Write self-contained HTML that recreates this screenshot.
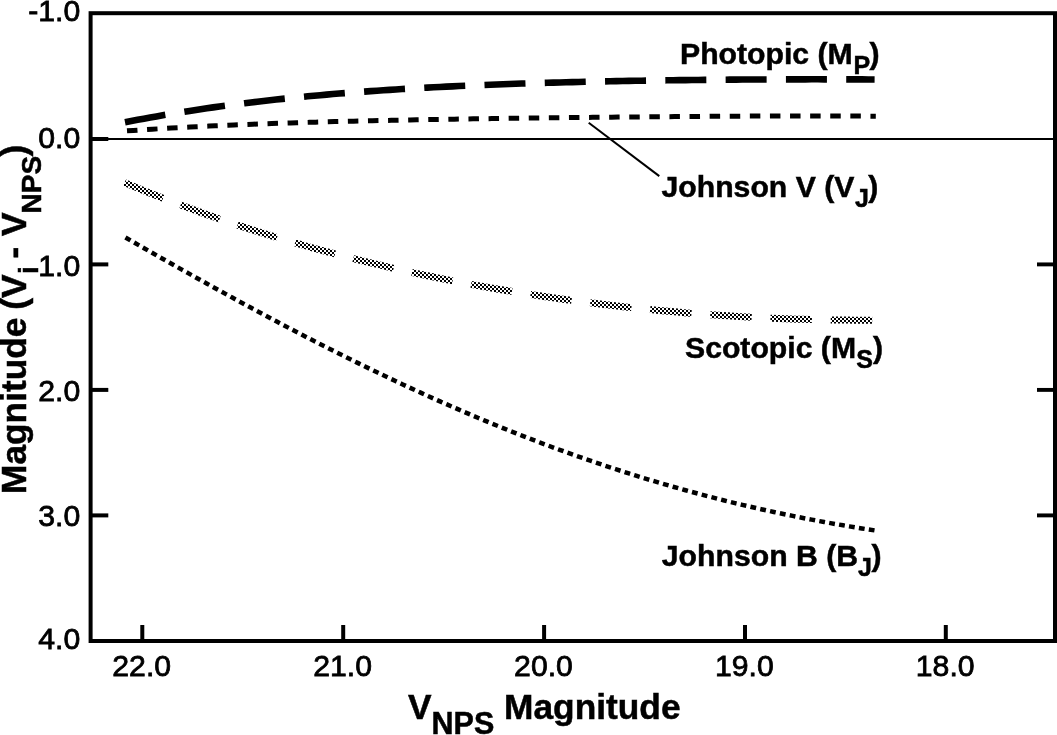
<!DOCTYPE html>
<html><head><meta charset="utf-8"><title>V_NPS Magnitude chart</title>
<style>html,body{margin:0;padding:0;background:#fff;}svg{display:block;}</style></head>
<body><svg width="1057" height="735" viewBox="0 0 1057 735">
<rect width="1057" height="735" fill="#fff"/>
<defs><pattern id="chk" patternUnits="userSpaceOnUse" width="4" height="4"><rect width="4" height="4" fill="#fff"/><rect width="2" height="2" fill="#000"/><rect x="2" y="2" width="2" height="2" fill="#000"/></pattern></defs>
<rect x="90.6" y="13.2" width="964.4" height="627.8" fill="none" stroke="#000" stroke-width="4"/>
<line x1="142.3" y1="641.0" x2="142.3" y2="625" stroke="#000" stroke-width="4"/>
<line x1="343.2" y1="641.0" x2="343.2" y2="625" stroke="#000" stroke-width="4"/>
<line x1="544.1" y1="641.0" x2="544.1" y2="625" stroke="#000" stroke-width="4"/>
<line x1="745.0" y1="641.0" x2="745.0" y2="625" stroke="#000" stroke-width="4"/>
<line x1="945.8" y1="641.0" x2="945.8" y2="625" stroke="#000" stroke-width="4"/>
<line x1="90.6" y1="139.0" x2="108.3" y2="139.0" stroke="#000" stroke-width="4"/>
<line x1="90.6" y1="264.4" x2="108.3" y2="264.4" stroke="#000" stroke-width="4"/>
<line x1="90.6" y1="389.9" x2="108.3" y2="389.9" stroke="#000" stroke-width="4"/>
<line x1="90.6" y1="515.4" x2="108.3" y2="515.4" stroke="#000" stroke-width="4"/>
<line x1="1037" y1="264.4" x2="1055" y2="264.4" stroke="#000" stroke-width="3.9"/>
<line x1="1037" y1="389.9" x2="1055" y2="389.9" stroke="#000" stroke-width="3.9"/>
<line x1="1037" y1="515.4" x2="1055" y2="515.4" stroke="#000" stroke-width="3.9"/>
<line x1="90.6" y1="138.9" x2="1055" y2="138.9" stroke="#000" stroke-width="2"/>
<text x="141.7" y="675.7" font-family="Liberation Sans, Arial, Helvetica, sans-serif" stroke="#000" stroke-width="0.8" font-size="30.2" text-anchor="middle">22.0</text>
<text x="342.6" y="675.7" font-family="Liberation Sans, Arial, Helvetica, sans-serif" stroke="#000" stroke-width="0.8" font-size="30.2" text-anchor="middle">21.0</text>
<text x="543.5" y="675.7" font-family="Liberation Sans, Arial, Helvetica, sans-serif" stroke="#000" stroke-width="0.8" font-size="30.2" text-anchor="middle">20.0</text>
<text x="744.4" y="675.7" font-family="Liberation Sans, Arial, Helvetica, sans-serif" stroke="#000" stroke-width="0.8" font-size="30.2" text-anchor="middle">19.0</text>
<text x="945.2" y="675.7" font-family="Liberation Sans, Arial, Helvetica, sans-serif" stroke="#000" stroke-width="0.8" font-size="30.2" text-anchor="middle">18.0</text>
<text x="80.3" y="21.2" font-family="Liberation Sans, Arial, Helvetica, sans-serif" stroke="#000" stroke-width="0.8" font-size="30.2" text-anchor="end">-1.0</text>
<text x="80.3" y="148.2" font-family="Liberation Sans, Arial, Helvetica, sans-serif" stroke="#000" stroke-width="0.8" font-size="30.2" text-anchor="end">0.0</text>
<text x="80.3" y="275.9" font-family="Liberation Sans, Arial, Helvetica, sans-serif" stroke="#000" stroke-width="0.8" font-size="30.2" text-anchor="end">1.0</text>
<text x="80.3" y="401.4" font-family="Liberation Sans, Arial, Helvetica, sans-serif" stroke="#000" stroke-width="0.8" font-size="30.2" text-anchor="end">2.0</text>
<text x="80.3" y="525.7" font-family="Liberation Sans, Arial, Helvetica, sans-serif" stroke="#000" stroke-width="0.8" font-size="30.2" text-anchor="end">3.0</text>
<text x="80.3" y="649.1" font-family="Liberation Sans, Arial, Helvetica, sans-serif" stroke="#000" stroke-width="0.8" font-size="30.2" text-anchor="end">4.0</text>
<path d="M124.60,182.63 L130.88,185.27 L137.17,187.88 L143.45,190.45 L149.74,192.99 L156.02,195.49 L162.31,197.97 L168.59,200.40 L174.88,202.81 L181.16,205.18 L187.45,207.52 L193.73,209.83 L200.02,212.10 L206.30,214.35 L212.59,216.56 L218.87,218.74 L225.16,220.89 L231.44,223.02 L237.73,225.11 L244.01,227.17 L250.30,229.21 L256.58,231.21 L262.87,233.19 L269.15,235.14 L275.44,237.06 L281.72,238.95 L288.01,240.82 L294.29,242.66 L300.58,244.47 L306.86,246.25 L313.15,248.01 L319.43,249.75 L325.72,251.46 L332.00,253.14 L338.29,254.80 L344.57,256.43 L350.86,258.04 L357.14,259.62 L363.43,261.18 L369.71,262.71 L375.99,264.22 L382.28,265.71 L388.56,267.18 L394.85,268.62 L401.13,270.03 L407.42,271.43 L413.70,272.80 L419.99,274.15 L426.27,275.48 L432.56,276.79 L438.84,278.07 L445.13,279.33 L451.41,280.58 L457.70,281.80 L463.98,283.00 L470.27,284.17 L476.55,285.33 L482.84,286.47 L489.12,287.58 L495.41,288.68 L501.69,289.76 L507.98,290.81 L514.26,291.85 L520.55,292.86 L526.83,293.86 L533.12,294.84 L539.40,295.79 L545.69,296.73 L551.97,297.65 L558.26,298.55 L564.54,299.43 L570.83,300.29 L577.11,301.13 L583.40,301.96 L589.68,302.76 L595.97,303.55 L602.25,304.32 L608.54,305.07 L614.82,305.80 L621.11,306.51 L627.39,307.21 L633.67,307.88 L639.96,308.54 L646.24,309.18 L652.53,309.80 L658.81,310.41 L665.10,310.99 L671.38,311.56 L677.67,312.11 L683.95,312.64 L690.24,313.15 L696.52,313.65 L702.81,314.13 L709.09,314.59 L715.38,315.03 L721.66,315.45 L727.95,315.86 L734.23,316.25 L740.52,316.62 L746.80,316.97 L753.09,317.30 L759.37,317.62 L765.66,317.92 L771.94,318.20 L778.23,318.46 L784.51,318.70 L790.80,318.92 L797.08,319.13 L803.37,319.32 L809.65,319.49 L815.94,319.64 L822.22,319.77 L828.51,319.88 L834.79,319.98 L841.08,320.05 L847.36,320.11 L853.65,320.15 L859.93,320.17 L866.22,320.17 L872.50,320.15" fill="none" stroke="url(#chk)" stroke-width="7" stroke-dasharray="41.5 18.8"/>
<path d="M125.20,237.38 L131.50,241.00 L137.79,244.60 L144.09,248.20 L150.39,251.79 L156.68,255.38 L162.98,258.95 L169.28,262.52 L175.57,266.07 L181.87,269.62 L188.17,273.16 L194.46,276.68 L200.76,280.20 L207.06,283.70 L213.35,287.19 L219.65,290.66 L225.95,294.13 L232.24,297.58 L238.54,301.02 L244.84,304.44 L251.13,307.84 L257.43,311.24 L263.73,314.61 L270.02,317.97 L276.32,321.32 L282.62,324.64 L288.91,327.95 L295.21,331.25 L301.51,334.52 L307.80,337.78 L314.10,341.02 L320.40,344.23 L326.69,347.43 L332.99,350.61 L339.29,353.77 L345.58,356.91 L351.88,360.03 L358.18,363.13 L364.47,366.21 L370.77,369.27 L377.07,372.30 L383.36,375.31 L389.66,378.30 L395.96,381.27 L402.25,384.22 L408.55,387.14 L414.85,390.04 L421.14,392.92 L427.44,395.77 L433.74,398.59 L440.03,401.40 L446.33,404.18 L452.63,406.93 L458.92,409.66 L465.22,412.37 L471.52,415.05 L477.81,417.70 L484.11,420.33 L490.41,422.94 L496.70,425.51 L503.00,428.06 L509.29,430.59 L515.59,433.09 L521.89,435.56 L528.18,438.01 L534.48,440.43 L540.78,442.82 L547.07,445.18 L553.37,447.52 L559.67,449.83 L565.96,452.12 L572.26,454.38 L578.56,456.60 L584.85,458.81 L591.15,460.98 L597.45,463.13 L603.74,465.25 L610.04,467.34 L616.34,469.40 L622.63,471.44 L628.93,473.44 L635.23,475.42 L641.52,477.38 L647.82,479.30 L654.12,481.20 L660.41,483.07 L666.71,484.91 L673.01,486.72 L679.30,488.50 L685.60,490.26 L691.90,491.99 L698.19,493.69 L704.49,495.36 L710.79,497.01 L717.08,498.63 L723.38,500.22 L729.68,501.78 L735.97,503.32 L742.27,504.82 L748.57,506.31 L754.86,507.76 L761.16,509.19 L767.46,510.59 L773.75,511.96 L780.05,513.31 L786.35,514.63 L792.64,515.92 L798.94,517.19 L805.24,518.43 L811.53,519.64 L817.83,520.83 L824.13,521.99 L830.42,523.13 L836.72,524.24 L843.02,525.33 L849.31,526.39 L855.61,527.43 L861.91,528.44 L868.20,529.43 L874.50,530.39" fill="none" stroke="#000" stroke-width="4.5" stroke-dasharray="5.8 4.247" stroke-dashoffset="-0.28"/>
<path d="M127.00,130.85 L133.29,130.42 L139.58,130.00 L145.88,129.60 L152.17,129.20 L158.46,128.82 L164.75,128.45 L171.05,128.08 L177.34,127.73 L183.63,127.39 L189.92,127.06 L196.22,126.74 L202.51,126.43 L208.80,126.12 L215.09,125.83 L221.39,125.54 L227.68,125.27 L233.97,125.00 L240.26,124.74 L246.56,124.48 L252.85,124.24 L259.14,124.00 L265.43,123.77 L271.73,123.54 L278.02,123.32 L284.31,123.11 L290.60,122.91 L296.90,122.71 L303.19,122.51 L309.48,122.32 L315.77,122.14 L322.07,121.96 L328.36,121.79 L334.65,121.62 L340.94,121.46 L347.24,121.30 L353.53,121.15 L359.82,121.00 L366.11,120.85 L372.41,120.71 L378.70,120.57 L384.99,120.44 L391.28,120.31 L397.57,120.18 L403.87,120.05 L410.16,119.93 L416.45,119.82 L422.74,119.70 L429.04,119.59 L435.33,119.48 L441.62,119.37 L447.91,119.27 L454.21,119.16 L460.50,119.06 L466.79,118.96 L473.08,118.87 L479.38,118.77 L485.67,118.68 L491.96,118.59 L498.25,118.50 L504.55,118.42 L510.84,118.33 L517.13,118.25 L523.42,118.17 L529.72,118.09 L536.01,118.01 L542.30,117.93 L548.59,117.85 L554.89,117.78 L561.18,117.71 L567.47,117.63 L573.76,117.56 L580.06,117.49 L586.35,117.42 L592.64,117.36 L598.93,117.29 L605.23,117.23 L611.52,117.16 L617.81,117.10 L624.10,117.04 L630.39,116.98 L636.69,116.92 L642.98,116.86 L649.27,116.81 L655.56,116.75 L661.86,116.70 L668.15,116.64 L674.44,116.59 L680.73,116.54 L687.03,116.50 L693.32,116.45 L699.61,116.41 L705.90,116.36 L712.20,116.32 L718.49,116.28 L724.78,116.25 L731.07,116.21 L737.37,116.18 L743.66,116.15 L749.95,116.12 L756.24,116.09 L762.54,116.07 L768.83,116.04 L775.12,116.02 L781.41,116.01 L787.71,115.99 L794.00,115.98 L800.29,115.98 L806.58,115.97 L812.88,115.97 L819.17,115.97 L825.46,115.98 L831.75,115.99 L838.05,116.00 L844.34,116.02 L850.63,116.04 L856.92,116.07 L863.22,116.10 L869.51,116.14 L875.80,116.18" fill="none" stroke="#000" stroke-width="5" stroke-dasharray="10.5 9.6"/>
<path d="M125.00,122.30 L131.30,121.06 L137.60,119.85 L143.90,118.66 L150.20,117.51 L156.50,116.38 L162.79,115.28 L169.09,114.21 L175.39,113.16 L181.69,112.14 L187.99,111.14 L194.29,110.16 L200.59,109.22 L206.89,108.29 L213.19,107.39 L219.49,106.51 L225.79,105.65 L232.09,104.81 L238.38,104.00 L244.68,103.21 L250.98,102.44 L257.28,101.68 L263.58,100.95 L269.88,100.24 L276.18,99.54 L282.48,98.87 L288.78,98.21 L295.08,97.57 L301.38,96.95 L307.68,96.34 L313.97,95.75 L320.27,95.18 L326.57,94.62 L332.87,94.08 L339.17,93.56 L345.47,93.05 L351.77,92.55 L358.07,92.07 L364.37,91.60 L370.67,91.15 L376.97,90.70 L383.27,90.28 L389.56,89.86 L395.86,89.46 L402.16,89.07 L408.46,88.69 L414.76,88.32 L421.06,87.96 L427.36,87.62 L433.66,87.28 L439.96,86.96 L446.26,86.64 L452.56,86.34 L458.86,86.04 L465.15,85.75 L471.45,85.48 L477.75,85.21 L484.05,84.95 L490.35,84.70 L496.65,84.45 L502.95,84.22 L509.25,83.99 L515.55,83.77 L521.85,83.56 L528.15,83.35 L534.45,83.16 L540.74,82.96 L547.04,82.78 L553.34,82.60 L559.64,82.43 L565.94,82.26 L572.24,82.10 L578.54,81.95 L584.84,81.80 L591.14,81.65 L597.44,81.52 L603.74,81.38 L610.04,81.26 L616.33,81.13 L622.63,81.01 L628.93,80.90 L635.23,80.79 L641.53,80.69 L647.83,80.59 L654.13,80.49 L660.43,80.40 L666.73,80.31 L673.03,80.23 L679.33,80.15 L685.63,80.08 L691.92,80.00 L698.22,79.94 L704.52,79.87 L710.82,79.81 L717.12,79.75 L723.42,79.70 L729.72,79.65 L736.02,79.60 L742.32,79.56 L748.62,79.52 L754.92,79.49 L761.22,79.46 L767.51,79.43 L773.81,79.40 L780.11,79.38 L786.41,79.36 L792.71,79.35 L799.01,79.33 L805.31,79.33 L811.61,79.32 L817.91,79.32 L824.21,79.33 L830.51,79.33 L836.81,79.34 L843.10,79.36 L849.40,79.38 L855.70,79.40 L862.00,79.42 L868.30,79.45 L874.60,79.49" fill="none" stroke="#000" stroke-width="6.6" stroke-dasharray="41 19.3"/>
<line x1="588.7" y1="122.7" x2="659.3" y2="176.1" stroke="#000" stroke-width="2"/>
<text x="680.0" y="64"  font-family="Liberation Sans, Arial, Helvetica, sans-serif" stroke="#000" stroke-width="0.5" font-weight="bold" font-size="30.2">Photopic (M<tspan x="853.5" y="73.7" font-size="25">P</tspan><tspan x="869.5" y="64">)</tspan></text>
<text x="661.5" y="197"  font-family="Liberation Sans, Arial, Helvetica, sans-serif" stroke="#000" stroke-width="0.5" font-weight="bold" font-size="30.2">Johnson V (V<tspan x="855.0" y="206.7" font-size="25">J</tspan><tspan x="868.2" y="197">)</tspan></text>
<text x="685" y="358"  font-family="Liberation Sans, Arial, Helvetica, sans-serif" stroke="#000" stroke-width="0.5" font-weight="bold" font-size="30.2">Scotopic (M<tspan x="856.3" y="367.7" font-size="25">S</tspan><tspan x="872.9" y="358">)</tspan></text>
<text x="661.8" y="566.3"  font-family="Liberation Sans, Arial, Helvetica, sans-serif" stroke="#000" stroke-width="0.5" font-weight="bold" font-size="30.2">Johnson B (B<tspan x="858.0" y="576.0" font-size="25">J</tspan><tspan x="871.6" y="566.3">)</tspan></text>
<text x="408" y="719"  font-family="Liberation Sans, Arial, Helvetica, sans-serif" stroke="#000" stroke-width="0.5" font-weight="bold" font-size="35.3">V<tspan dy="15" font-size="30.5">NPS</tspan><tspan dy="-15"> Magnitude</tspan></text>
<text transform="translate(26,494) rotate(-90)"  font-family="Liberation Sans, Arial, Helvetica, sans-serif" stroke="#000" stroke-width="0.5" font-weight="bold" font-size="35.3">Magnitude <tspan dx="-2">(</tspan>V<tspan x="220.0" y="12.1" font-size="28">i</tspan><tspan x="235.5" y="-1">-</tspan><tspan x="258.0" y="0">V</tspan><tspan x="280.5" y="14.8" font-size="28">NPS</tspan><tspan x="337.5" y="0">)</tspan></text>
</svg></body></html>
